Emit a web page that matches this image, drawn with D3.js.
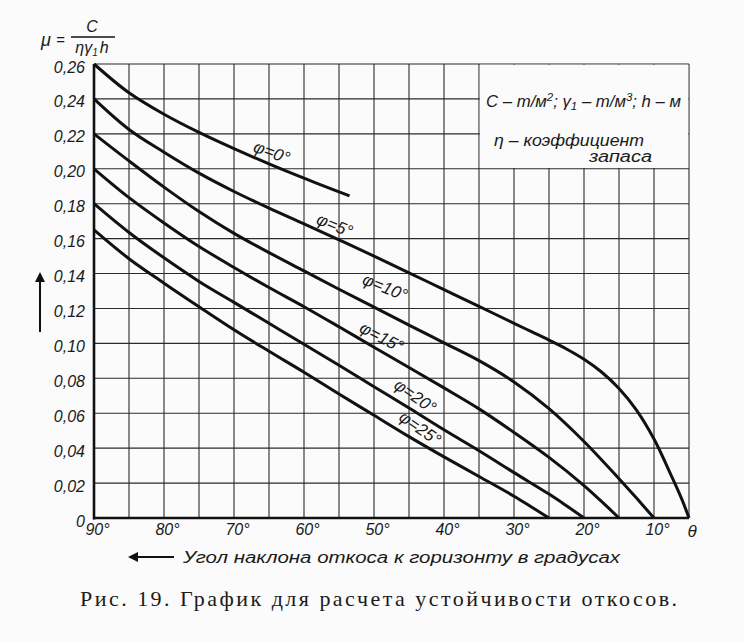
<!DOCTYPE html>
<html>
<head>
<meta charset="utf-8">
<script src="https://cdn.jsdelivr.net/npm/d3@7"></script>
<style>
  body { margin: 0; background: #fbfbfb; }
  svg { display: block; }
  text { fill: #1a1a1a; }
</style>
</head>
<body>
<div id="chart"></div>
<script>
// slope angle (deg) / stability number mu, one list per friction angle
const phi0  = [[90,.26],[85,.2435],[80,.2312],[75,.2208],[70,.2115],[65,.2028],[60,.1946],[55,.1868],[53.5,.1845]];
const phi5  = [[90,.24],[85,.2225],[80,.2095],[75,.1975],[70,.187],[65,.1775],[60,.1685],[55,.1593],[50,.15],[45,.1404],[40,.1308],[35,.1212],[30,.1115],[27.5,.1067],[25,.1019],[22.5,.0968],[20,.0909],[17.5,.0836],[15,.0742],[12.5,.0618],[10,.0452],[7.5,.024],[6,.0105],[5,0]];
const phi10 = [[90,.22],[85,.2045],[80,.1895],[75,.1755],[70,.163],[65,.152],[60,.1415],[55,.131],[50,.1208],[45,.1105],[40,.1003],[35,.0901],[30,.0779],[25,.0626],[20,.0438],[15,.0225],[12.5,.0114],[10,0]];
const phi15 = [[90,.20],[85,.1835],[80,.169],[75,.1555],[70,.1435],[65,.132],[60,.121],[55,.1095],[50,.0978],[45,.0862],[40,.0745],[35,.0625],[30,.049],[25,.0347],[20,.0186],[17.5,.0095],[15,0]];
const phi20 = [[90,.18],[85,.1635],[80,.149],[75,.1355],[70,.1235],[65,.1115],[60,.0995],[55,.0875],[50,.0752],[45,.063],[40,.0505],[35,.0385],[30,.026],[25,.0137],[22.5,.007],[20,0]];
const phi25 = [[90,.165],[85,.1485],[80,.1345],[75,.121],[70,.1078],[65,.0955],[60,.0835],[55,.071],[50,.0588],[45,.0466],[40,.035],[35,.0238],[30,.0125],[27.5,.0063],[25,0]];

const phiNames = ["φ=0°", "φ=5°", "φ=10°", "φ=15°", "φ=20°", "φ=25°"];
const labelAt = [[64.6,.2096],[55.6,.1678],[48.4,.1323],[48.9,.1037],[44.1,.0699],[43.4,.0515]];
const labelTilt = [20, 22, 22, 27, 35, 35];

const gridAngles = d3.range(90, 4, -5);
const gridMu = d3.range(0, 0.2601, 0.02);
const xTicks = [90, 80, 70, 60, 50, 40, 30, 20, 10];
const xTickLabels = ["90°", "80°", "70°", "60°", "50°", "40°", "30°", "20°", "10°"];
const yTicks = [0, .02, .04, .06, .08, .10, .12, .14, .16, .18, .20, .22, .24, .26];
const yTickLabels = ["0", "0,02", "0,04", "0,06", "0,08", "0,10", "0,12", "0,14", "0,16", "0,18", "0,20", "0,22", "0,24", "0,26"];

const width = 744, height = 641;
const margin = { left: 94, right: 55, top: 64, bottom: 123 };

const svg = d3.select("#chart").append("svg")
  .attr("width", width).attr("height", height)
  .style("background", "#fbfbfb");

const x = d3.scaleLinear().domain([90, 5]).range([margin.left, width - margin.right]);
const y = d3.scaleLinear().domain([0, 0.26]).range([height - margin.bottom, margin.top]);

const italic = "'Liberation Sans', Arial, sans-serif";

// grid
const grid = svg.append("g").attr("stroke", "#2b2b2b").attr("stroke-width", 1.1);
grid.selectAll("line.v").data(gridAngles).join("line")
  .attr("x1", d => x(d)).attr("x2", d => x(d))
  .attr("y1", y(0)).attr("y2", y(0.26));
grid.selectAll("line.h").data(gridMu).join("line")
  .attr("x1", x(90)).attr("x2", x(5))
  .attr("y1", d => y(d)).attr("y2", d => y(d));

// blank notes panel in the upper right corner
svg.append("rect")
  .attr("x", x(35) + 0.8).attr("y", y(0.26) + 0.8)
  .attr("width", x(5) - x(35) - 1.6).attr("height", y(0.20) - y(0.26) - 1.6)
  .attr("fill", "#fbfbfb");

// heavy left and bottom axes
svg.append("line").attr("x1", x(90)).attr("x2", x(90)).attr("y1", y(0.26)).attr("y2", y(0) + 1.5)
  .attr("stroke", "#111").attr("stroke-width", 2.6);
svg.append("line").attr("x1", x(90) - 1).attr("x2", x(5)).attr("y1", y(0)).attr("y2", y(0))
  .attr("stroke", "#111").attr("stroke-width", 2.6);

// curves
const line = d3.line().x(d => x(d[0])).y(d => y(d[1])).curve(d3.curveCatmullRom.alpha(0.5));
const series = [phi0, phi5, phi10, phi15, phi20, phi25];
svg.append("g").selectAll("path").data(series).join("path")
  .attr("d", line)
  .attr("fill", "none").attr("stroke", "#111").attr("stroke-width", 3);

// curve labels
svg.append("g").selectAll("text").data(phiNames).join("text")
  .attr("transform", (d, i) => `translate(${x(labelAt[i][0])},${y(labelAt[i][1])}) rotate(${labelTilt[i]})`)
  .attr("text-anchor", "middle").attr("dy", "0.35em")
  .style("font-family", italic).style("font-style", "italic").style("font-size", "17px")
  .text(d => d);

// y tick labels
const yAxis = svg.append("g").attr("transform", `translate(${x(90)},0)`)
  .call(d3.axisLeft(y).tickValues(yTicks).tickFormat((d, i) => yTickLabels[i]).tickSize(0).tickPadding(9));
yAxis.select(".domain").remove();
yAxis.selectAll("text")
  .attr("dy", "0.5em")
  .style("font-family", italic).style("font-style", "italic").style("font-size", "16px").style("fill", "#1a1a1a");

// x tick labels
const xAxis = svg.append("g").attr("transform", `translate(0,${y(0)})`)
  .call(d3.axisBottom(x).tickValues(xTicks).tickFormat((d, i) => xTickLabels[i]).tickSize(0).tickPadding(6));
xAxis.select(".domain").remove();
xAxis.selectAll("text")
  .attr("dx", "3")
  .style("font-family", italic).style("font-style", "italic").style("font-size", "16px").style("fill", "#1a1a1a");
svg.append("text").attr("x", x(5) + 3).attr("y", y(0) + 19)
  .attr("text-anchor", "middle")
  .style("font-family", italic).style("font-style", "italic").style("font-size", "17px")
  .text("θ");

// x title with arrow
const defs = svg.append("defs");
defs.append("marker").attr("id", "head")
  .attr("viewBox", "0 0 10 10").attr("refX", 2).attr("refY", 5)
  .attr("markerWidth", 5).attr("markerHeight", 5).attr("orient", "auto-start-reverse")
  .append("path").attr("d", "M0,0 L10,5 L0,10 z").attr("fill", "#111");

svg.append("line").attr("x1", 174).attr("x2", 136).attr("y1", 557).attr("y2", 557)
  .attr("stroke", "#111").attr("stroke-width", 2).attr("marker-end", "url(#head)");
svg.append("text").attr("x", 183).attr("y", 563)
  .attr("textLength", 437).attr("lengthAdjust", "spacingAndGlyphs")
  .style("font-family", italic).style("font-style", "italic").style("font-size", "16px")
  .text("Угол наклона откоса к горизонту в градусах");

// y arrow
svg.append("line").attr("x1", 40).attr("x2", 40).attr("y1", 332).attr("y2", 280)
  .attr("stroke", "#111").attr("stroke-width", 2).attr("marker-end", "url(#head)");

// y title: mu = C / (eta gamma1 h)
const yt = svg.append("g").style("font-family", italic).style("font-style", "italic");
yt.append("text").attr("x", 41).attr("y", 46).style("font-size", "18px").text("μ");
yt.append("text").attr("x", 56).attr("y", 45).style("font-size", "15px").text("=");
yt.append("text").attr("x", 92).attr("y", 32).attr("text-anchor", "middle").style("font-size", "16px").text("C");
yt.append("line").attr("x1", 71).attr("x2", 115).attr("y1", 37).attr("y2", 37).attr("stroke", "#111").attr("stroke-width", 1.3);
const den = yt.append("text").attr("x", 92).attr("y", 53).attr("text-anchor", "middle").style("font-size", "16px");
den.append("tspan").text("ηγ");
den.append("tspan").attr("dy", 3).style("font-size", "10px").text("1");
den.append("tspan").attr("dy", -3).attr("dx", 2).text("h");

// notes
const notes = svg.append("g").style("font-family", italic).style("font-style", "italic").style("font-size", "16px");
const n1 = notes.append("text").attr("x", 486).attr("y", 107)
  .attr("textLength", 195).attr("lengthAdjust", "spacingAndGlyphs");
n1.append("tspan").text("C – т/м");
n1.append("tspan").attr("dy", -6).style("font-size", "11px").text("2");
n1.append("tspan").attr("dy", 6).text("; γ");
n1.append("tspan").attr("dy", 3).style("font-size", "11px").text("1");
n1.append("tspan").attr("dy", -3).text(" – т/м");
n1.append("tspan").attr("dy", -6).style("font-size", "11px").text("3");
n1.append("tspan").attr("dy", 6).text("; h – м");
notes.append("text").attr("x", 494).attr("y", 146)
  .attr("textLength", 150).attr("lengthAdjust", "spacingAndGlyphs").text("η – коэффициент");
notes.append("text").attr("x", 589).attr("y", 162)
  .attr("textLength", 63).attr("lengthAdjust", "spacingAndGlyphs").text("запаса");

// caption
svg.append("text").attr("x", 80).attr("y", 606)
  .attr("textLength", 597).attr("lengthAdjust", "spacing")
  .style("font-family", "'Liberation Serif', 'Times New Roman', serif").style("font-size", "22px")
  .text("Рис. 19. График для расчета устойчивости откосов.");
</script>
</body>
</html>
